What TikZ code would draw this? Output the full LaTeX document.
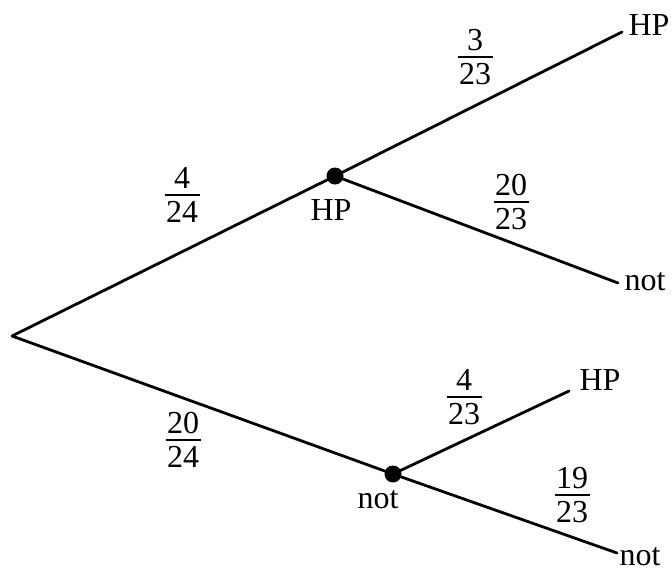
\documentclass[tikz,border=0pt]{standalone}
\usepackage{fontspec}
\setmainfont{Liberation Serif}
\setlength{\arrayrulewidth}{1.8pt}
\newcommand{\fr}[2]{\begin{tabular}{@{\kern1.5pt}c@{\kern1.5pt}}#1\\[-5pt]\hline \rule{0pt}{27pt}#2\end{tabular}}
\begin{document}
\begin{tikzpicture}[x=1pt,y=-1pt,
  branch/.style={line width=2.8pt,line cap=round},
  dot/.style={circle,fill=black,inner sep=0pt,minimum size=17pt},
  lbl/.style={inner sep=0pt,font=\fontsize{32}{36}\selectfont},
  frac/.style={inner sep=0pt,font=\fontsize{32}{36}\selectfont,yshift=-3.4pt}]
\useasboundingbox (0,0) rectangle (672,574);
\coordinate (root) at (12,336);
\node[dot] (n1) at (335,176) {};
\node[dot] (n2) at (393,474) {};
\coordinate (e1) at (622,32);
\coordinate (e2) at (618,283);
\coordinate (e3) at (569,391);
\coordinate (e4) at (617,553);
\draw[branch] (root) -- (n1.center);
\draw[branch] (root) -- (n2.center);
\draw[branch] (n1.center) -- (e1);
\draw[branch] (n1.center) -- (e2);
\draw[branch] (n2.center) -- (e3);
\draw[branch] (n2.center) -- (e4);
\node[lbl] (l1) at (649,25) {HP};
\node[lbl] (l2) at (645,282) {not};
\node[lbl] (l3) at (600,380) {HP};
\node[lbl] (l4) at (640,557) {not};
\node[lbl] (ln1) at (331,210) {HP};
\node[lbl] (ln2) at (378,500) {not};
\node[frac] (f1) at (182,195) {\fr{4}{24}};
\node[frac] (f2) at (183,440) {\fr{20}{24}};
\node[frac] (f3) at (475,57) {\fr{3}{23}};
\node[frac] (f4) at (511,202) {\fr{20}{23}};
\node[frac] (f5) at (464,397) {\fr{4}{23}};
\node[frac] (f6) at (572,495) {\fr{19}{23}};
\end{tikzpicture}
\end{document}
